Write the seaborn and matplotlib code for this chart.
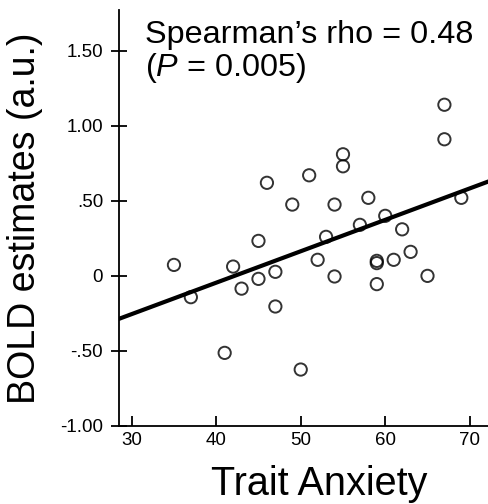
import matplotlib
matplotlib.use("Agg")
import matplotlib.pyplot as plt
import seaborn as sns
import pandas as pd

# values
trait_anxiety = [67, 67, 55, 55, 51, 46, 49, 54, 58, 69, 60, 57, 62, 53, 45, 63,
                 52, 59, 59, 61, 35, 42, 47, 45, 54, 65, 59, 43, 37, 47, 41, 50]
bold_estimates = [1.14, 0.91, 0.81, 0.73, 0.67, 0.62, 0.475, 0.475, 0.52, 0.52, 0.40,
                  0.34, 0.31, 0.26, 0.233, 0.16, 0.107, 0.10, 0.085, 0.107, 0.073,
                  0.062, 0.027, -0.02, -0.004, 0.0, -0.055, -0.085, -0.142, -0.204,
                  -0.513, -0.624]
x_ticks = [30, 40, 50, 60, 70]
y_ticks = [-1.0, -0.5, 0.0, 0.5, 1.0, 1.5]
y_tick_labels = ["-1.00", "-.50", "0", ".50", "1.00", "1.50"]

df = pd.DataFrame({"anxiety": trait_anxiety, "bold": bold_estimates})

sns.set_style("ticks")
plt.rcParams["font.family"] = ["Liberation Sans", "DejaVu Sans"]
plt.rcParams["mathtext.fontset"] = "custom"
plt.rcParams["mathtext.rm"] = "Liberation Sans"
plt.rcParams["mathtext.it"] = "Liberation Sans:italic"
plt.rcParams["text.color"] = "black"
plt.rcParams["axes.labelcolor"] = "black"

fig = plt.figure(figsize=(4.89, 5.04), dpi=100)
ax = fig.add_axes([0.2434, 0.1548, 0.757, 0.825])
ax.set_xlim(28.5, 72.3)
ax.set_ylim(-1.0, 1.77)

sns.regplot(data=df, x="anxiety", y="bold", ax=ax, ci=None, truncate=False,
            scatter_kws={"s": 78, "facecolors": "none", "edgecolors": "black",
                         "linewidths": 1.4, "zorder": 3},
            line_kws={"color": "black", "lw": 3.0})

ax.set_xlim(28.5, 72.3)
ax.set_ylim(-1.0, 1.77)
ax.set_xticks(x_ticks)
ax.set_yticks(y_ticks)
ax.set_yticklabels(y_tick_labels)
ax.tick_params(axis="x", direction="in", length=7, width=1.3, labelsize=13.5, colors="black", pad=4)
ax.tick_params(axis="y", direction="inout", length=11, width=1.3, labelsize=13.5, colors="black", pad=6)
for s in ["top", "right"]:
    ax.spines[s].set_visible(False)
for s in ["left", "bottom"]:
    ax.spines[s].set_linewidth(1.3)
    ax.spines[s].set_color("black")

ax.set_xlabel("Trait Anxiety", fontsize=28.5, labelpad=12)
ax.xaxis.label.set_x(0.54)
ax.set_ylabel("BOLD estimates (a.u.)", fontsize=27, labelpad=12)

ax.text(31.6, 1.553, "Spearman\u2019s rho = 0.48", fontsize=23.3, va="baseline")
ax.text(31.6, 1.333, "($\\it{P}$ = 0.005)", fontsize=23.3, va="baseline")

fig.savefig("out.png", dpi=100)
